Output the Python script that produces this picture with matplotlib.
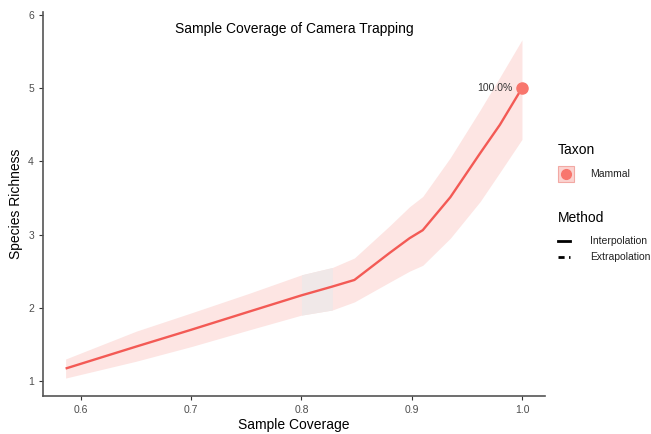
import matplotlib
matplotlib.use("Agg")
import matplotlib.pyplot as plt
from matplotlib.lines import Line2D
from matplotlib.patches import Rectangle

plt.rcParams['font.family'] = ['Liberation Sans', 'DejaVu Sans']

# Data
coverage = [0.586, 0.65, 0.70, 0.753, 0.80, 0.828, 0.848, 0.88, 0.898, 0.91, 0.935, 0.962, 0.98, 1.0]
richness = [1.17, 1.47, 1.70, 1.95, 2.17, 2.29, 2.38, 2.75, 2.95, 3.06, 3.51, 4.11, 4.50, 5.0]
lower    = [1.04, 1.27, 1.47, 1.70, 1.90, 1.97, 2.08, 2.35, 2.50, 2.58, 2.95, 3.45, 3.85, 4.30]
upper    = [1.30, 1.68, 1.93, 2.20, 2.45, 2.55, 2.68, 3.12, 3.38, 3.52, 4.05, 4.70, 5.15, 5.66]
obs_cov = [1.0]
obs_rich = [5.0]
obs_label = "100.0%"
xticks = [0.6, 0.7, 0.8, 0.9, 1.0]
yticks = [1, 2, 3, 4, 5, 6]

red = '#F8766D'
line_red = '#F35A55'
ribbon = '#FDE5E3'

W, H = 651, 434
fig = plt.figure(figsize=(W/100, H/100), dpi=100)
ax = fig.add_axes([43/W, 1-396/H, (545-43)/W, (396-12)/H])

ax.fill_between(coverage, lower, upper, color=ribbon, linewidth=0, zorder=1)
# slightly greyer overlap patch
ax.fill_between(coverage[4:6], lower[4:6], upper[4:6], color='#F0E8E8', linewidth=0, zorder=1.5)
ax.plot(coverage, richness, color=line_red, lw=1.7, zorder=2, solid_capstyle='butt')
ax.plot(obs_cov, obs_rich, 'o', color=red, markersize=8, zorder=3)
ax.text(obs_cov[0]-0.009, obs_rich[0], obs_label, ha='right', va='center',
        fontsize=7.5, color='#333333')

ax.set_xlim(0.5655, 1.0209)
ax.set_ylim(0.795, 6.04)
ax.set_xticks(xticks)
ax.set_xticklabels([f"{t:.1f}" for t in xticks])
ax.set_yticks(yticks)
ax.tick_params(axis='both', colors='#333333', labelcolor='#4D4D4D', labelsize=7.5,
               length=3, width=0.8)
for s in ['top', 'right']:
    ax.spines[s].set_visible(False)
for s in ['left', 'bottom']:
    ax.spines[s].set_color('#555555')
    ax.spines[s].set_linewidth(1.2)

ax.set_xlabel("Sample Coverage", fontsize=10, labelpad=2)
ax.set_ylabel("Species Richness", fontsize=10, labelpad=4)
ax.set_title("Sample Coverage of Camera Trapping", fontsize=10, pad=-15, y=1.0)

# Legend (figure coordinates in pixels)
def fx(px):
    return px / W

def fy(py):
    return 1 - py / H

fig.text(fx(558), fy(150), "Taxon", fontsize=10, va='center', ha='left')
fig.patches.append(Rectangle((fx(558), fy(182)), 16/W, 16/H, transform=fig.transFigure,
                             facecolor='#FBD3D0', edgecolor='#F2A9A4', lw=0.8))
fig.lines.append(Line2D([fx(566)], [fy(174)], transform=fig.transFigure, marker='o',
                        color=red, markersize=7))
fig.text(fx(590), fy(174), "Mammal", fontsize=7.5, va='center', ha='left', color='#222222')

fig.text(fx(558), fy(218), "Method", fontsize=10, va='center', ha='left')
fig.lines.append(Line2D([fx(558), fx(570)], [fy(241), fy(241)], transform=fig.transFigure,
                        color='black', lw=2))
fig.text(fx(590), fy(241), "Interpolation", fontsize=7.5, va='center', ha='left', color='#222222')
fig.lines.append(Line2D([fx(558), fx(570)], [fy(257), fy(257)], transform=fig.transFigure,
                        color='black', lw=2, dashes=(2.2, 1.6, 0.8, 1.6)))
fig.text(fx(590), fy(257), "Extrapolation", fontsize=7.5, va='center', ha='left', color='#222222')

fig.savefig("out.png", dpi=100)
